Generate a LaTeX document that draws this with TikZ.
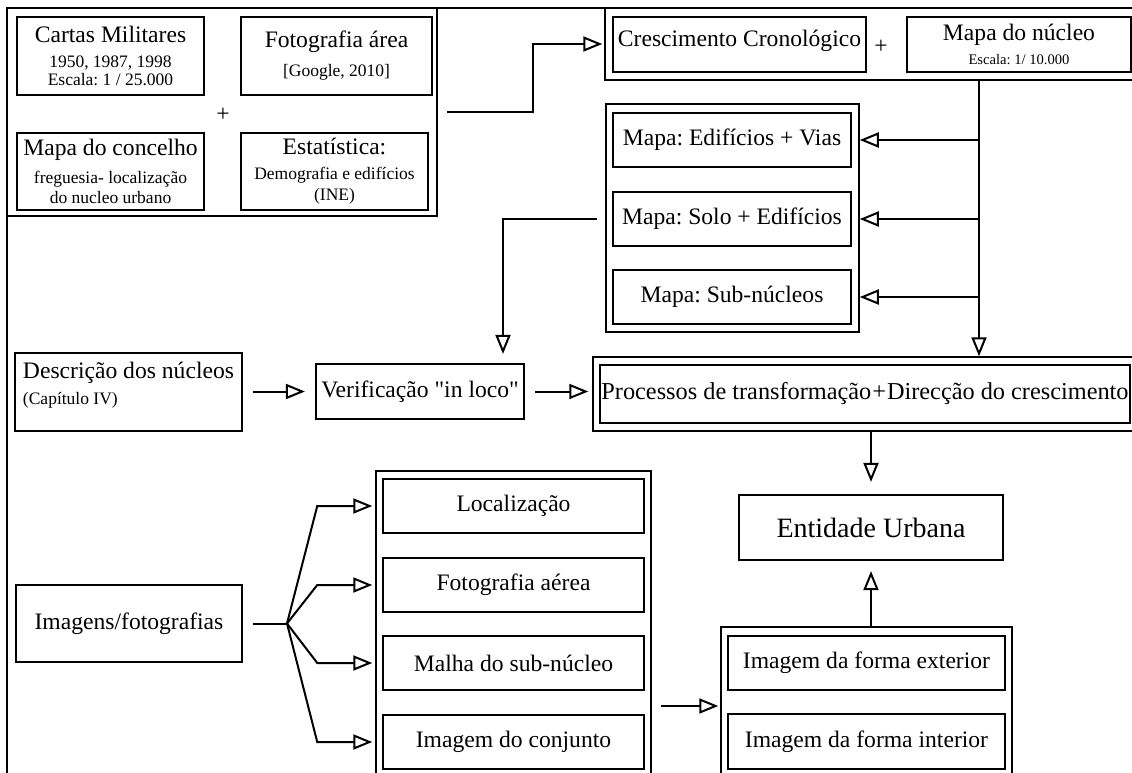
\documentclass[tikz,border=0pt]{standalone}
\usepackage{fontspec}
\setmainfont{Liberation Serif}
\usetikzlibrary{arrows.meta,positioning}
\frenchspacing

\newcommand{\grande}{\fontsize{23.6}{26}\selectfont}
\newcommand{\pequeno}{\fontsize{17.5}{19}\selectfont}
\newcommand{\mini}{\fontsize{14.6}{16}\selectfont}

\begin{document}
\begin{tikzpicture}[
    x=1pt,
    y=-1pt,
    caixa/.style={draw, line width=2.2pt, inner sep=0pt, align=center, font=\grande},
    grupo/.style={draw, line width=1.5pt, inner sep=0pt},
    tam/.style 2 args={minimum width=#1pt, minimum height=#2pt},
    seta/.style={line width=2pt, -{Triangle[open, length=19pt, width=15pt]}},
    linha/.style={line width=2pt},
    mais/.style={font=\grande, inner sep=0pt}
  ]
    \useasboundingbox (0,0) rectangle (1132,773);
    \clip (0,0) rectangle (1132,773);
    \draw[line width=1.8pt] (7,790) -- (7,8) -- (1150,8);

    % fontes de dados
    \node[grupo, tam={430}{208}] (fontes) at (222,112) {};
    \node[caixa, tam={187}{78}] (cartas) at (110.5,56)
      {Cartas Militares\\[-1pt]{\pequeno 1950, 1987, 1998}\\[-8pt]{\pequeno Escala: 1 / 25.000}};
    \node[caixa, tam={191}{78}] (fotoarea) at (336.5,56)
      {Fotografia área\\[3pt]{\pequeno [Google, 2010]}};
    \node[caixa, tam={187}{77}] (concelho) at (110.5,171.5)
      {Mapa do concelho\\[2pt]{\pequeno freguesia- localização}\\[-6pt]{\pequeno do nucleo urbano}};
    \node[caixa, tam={187}{77}] (estat) at (334.5,171.5)
      {Estatística:\\[-1pt]{\pequeno Demografia e edifícios}\\[-5pt]{\pequeno (INE)}};
    \node[mais] (mais1) at (223,115) {+};

    % crescimento
    \node[grupo, tam={535}{72}] (topo) at (872.5,44) {};
    \node[caixa, tam={253}{55}] (cresc) at (739.5,44.5) {Crescimento Cronológico\\[-21pt]\strut};
    \node[mais] (mais2) at (881,47) {+};
    \node[caixa, tam={224}{55}] (nucleo) at (1019,44.5)
      {Mapa do núcleo\\[-2pt]{\mini Escala: 1/ 10.000}};

    % mapas
    \node[grupo, tam={253}{228}] (mapas) at (732.5,218) {};
    \node[caixa, tam={238}{54}] (edif) at (732,140) {Mapa: Edifícios + Vias};
    \node[caixa, tam={238}{54}] (solo) at (732,219) {Mapa: Solo + Edifícios};
    \node[caixa, tam={238}{54}] (subn) at (732,297) {Mapa: Sub-núcleos};

    % verificacao
    \node[caixa, tam={227}{78}, align=left] (descr) at (128.5,392)
      {Descrição dos núcleos\\[0pt]{\pequeno (Capítulo IV)}\\[-16pt]\strut};
    \node[caixa, tam={208}{55}] (verif) at (420,391.5) {Verificação \textquotedbl in loco\textquotedbl};
    \node[grupo, tam={547}{74}] (proc) at (866.5,394) {};
    \node[caixa, tam={530}{58}, font=\fontsize{24.3}{28}\selectfont] (procin) at (865,394)
      {Processos de transformação\kern1pt+\kern1ptDirecção do crescimento};

    \node[caixa, tam={264}{65}, font=\fontsize{28}{32}\selectfont] (entid) at (871,527.5) {Entidade Urbana};

    % imagens
    \node[caixa, tam={226}{77}] (imagens) at (129,623.5) {Imagens/fotografias};
    \node[grupo, tam={275}{314}] (vistas) at (513.5,628) {};
    \node[caixa, tam={261}{54}] (loc) at (513.5,506) {Localização};
    \node[caixa, tam={261}{54}] (aerea) at (513.5,585) {Fotografia aérea};
    \node[caixa, tam={261}{54}] (malha) at (513.5,663) {Malha do sub-núcleo};
    \node[caixa, tam={261}{54}] (conj) at (513.5,742) {Imagem do conjunto};

    \node[grupo, tam={291}{158}] (forma) at (866.5,706) {};
    \node[caixa, tam={277}{54}] (ext) at (866.5,663) {Imagem da forma exterior};
    \node[caixa, tam={277}{55}] (int) at (866.5,741.5) {Imagem da forma interior};

    % ligacoes
    \draw[seta, shorten >=2pt] ([xshift=9pt]fontes.east) -- ++(86,0) |- (topo.west);
    \coordinate (tronco) at (979,80);
    \draw[seta] (tronco) -- (tronco |- proc.north);
    \foreach \m in {edif,solo,subn}
      \draw[seta] (tronco |- \m.east) -- (mapas.east |- \m.east);
    \coordinate (s0) at (597,219);
    \draw[seta] (s0) -| ([xshift=83pt, yshift=9pt]verif.north);
    \draw[seta, shorten <=10pt, shorten >=10pt] (descr.east |- verif.west) -- (verif.west);
    \draw[seta, shorten <=10pt, shorten >=4pt] (verif.east) -- (verif.east -| proc.west);
    \draw[seta, shorten >=12pt] (entid.north |- proc.south) -- (entid.north);
    \draw[seta, shorten >=10pt] (entid.south |- forma.north) -- (entid.south);
    \draw[seta, shorten <=9pt, shorten >=2pt] (vistas.east |- forma.west) -- (forma.west);
    \coordinate (garfo) at (287,623.5);
    \draw[linha] ([xshift=10pt]imagens.east) -- (garfo);
    \foreach \nome in {loc,aerea,malha,conj}
      \draw[seta, shorten >=3pt] (garfo) -- ([xshift=-58pt]vistas.west |- \nome) -- (vistas.west |- \nome);
  \end{tikzpicture}
\end{document}
